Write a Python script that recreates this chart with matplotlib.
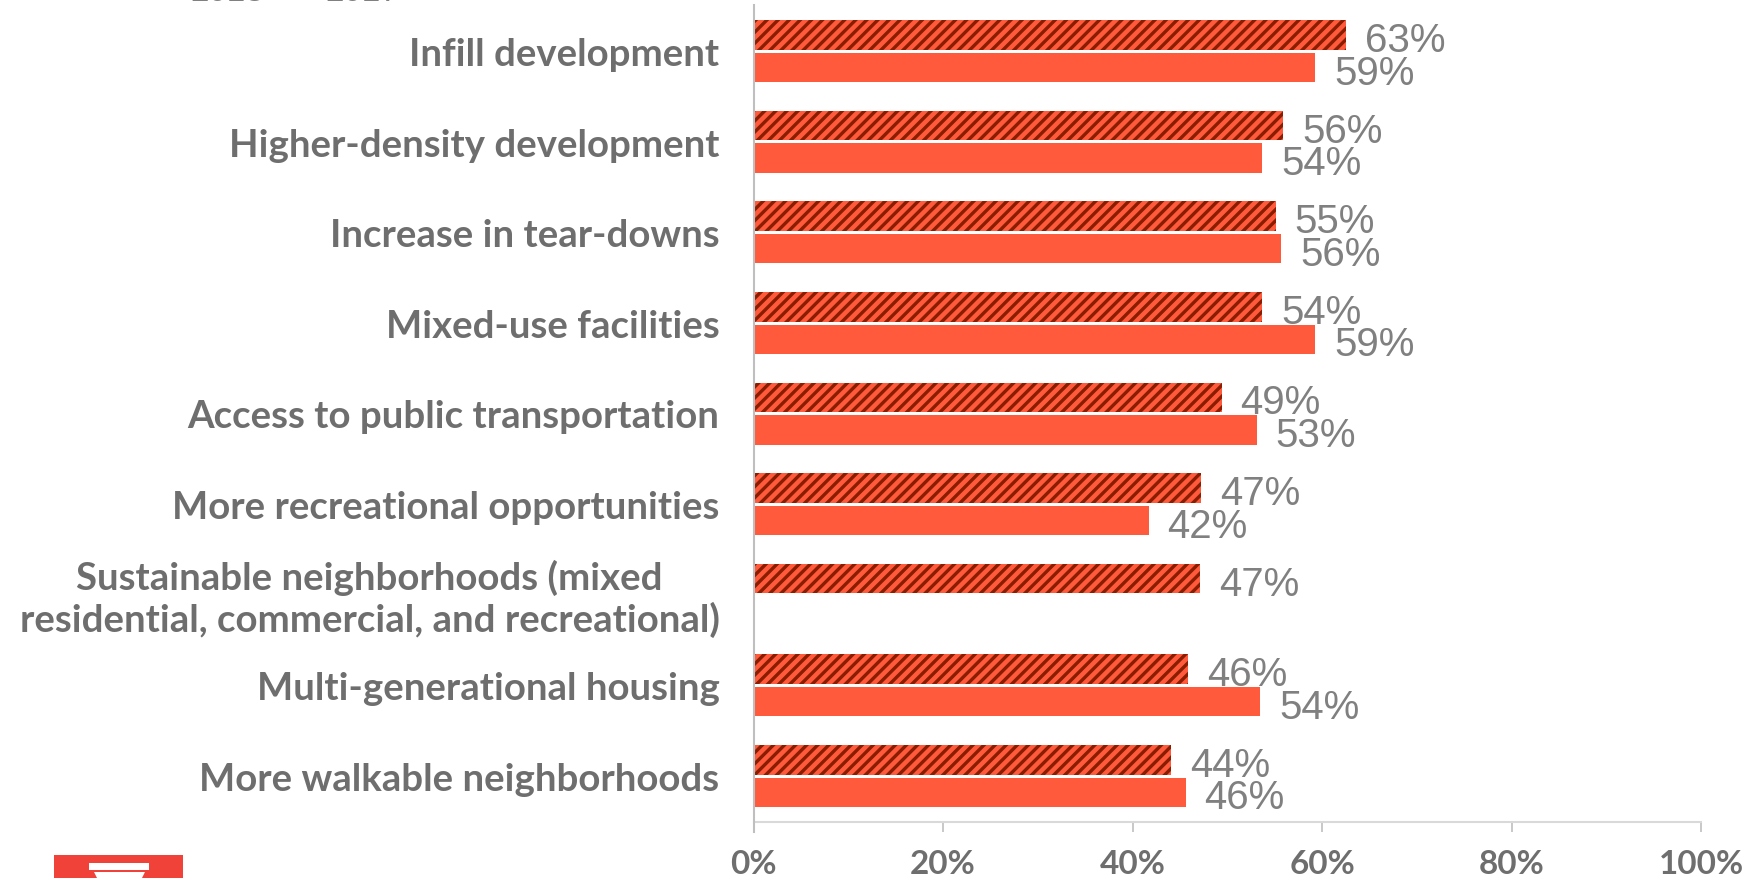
import matplotlib
matplotlib.use('Agg')
import matplotlib.pyplot as plt
import numpy as np
from matplotlib.patches import Rectangle, Polygon

# 数据
categories = ['Infill development', 'Higher-density development', 'Increase in tear-downs',
              'Mixed-use facilities', 'Access to public transportation',
              'More recreational opportunities',
              'Sustainable neighborhoods (mixed\nresidential, commercial, and recreational)',
              'Multi-generational housing', 'More walkable neighborhoods']
vals_2018 = [62.5, 55.9, 55.1, 53.7, 49.4, 47.2, 47.1, 45.9, 44.1]
vals_2017 = [59.3, 53.7, 55.7, 59.3, 53.1, 41.7, None, 53.5, 45.6]
labels_2018 = ['63%', '56%', '55%', '54%', '49%', '47%', '47%', '46%', '44%']
labels_2017 = ['59%', '54%', '56%', '59%', '53%', '42%', '', '54%', '46%']
xticks = [0, 20, 40, 60, 80, 100]

W, H = 1763, 878
DPI = 133  # hatch spacing follows dpi, so this sets the stripe width
S = 100 / DPI
RED = '#ff5a3c'
GREY = '#6e6e6e'
VAL = '#808080'
plt.rcParams['hatch.color'] = '#8a1c00'
plt.rcParams['hatch.linewidth'] = 2.4 * S

fig = plt.figure(figsize=((W + 0.01)/DPI, (H + 0.01)/DPI), dpi=DPI)
x0, x1 = 753.5, 1701
ytop, ybot = 5, 822
ax = fig.add_axes([x0/W, 1-ybot/H, (x1-x0)/W, (ybot-ytop)/H])
ax.set_xlim(0, 100)
ax.set_ylim(ybot, ytop)  # y in pixel units of the figure

pitch = 90.6
y_h = 35 + pitch*np.arange(len(categories))
y_s = 67.5 + pitch*np.arange(len(categories))

for i in range(len(categories)):
    ax.barh(y_h[i], vals_2018[i], height=29.5, color=RED, hatch='////', linewidth=0)
    ax.text(vals_2018[i]+2, y_h[i]+6, labels_2018[i], fontsize=29*S, color=VAL,
            family='Liberation Sans', va='center')
    if vals_2017[i] is not None:
        ax.barh(y_s[i], vals_2017[i], height=29.5, color=RED, linewidth=0)
        ax.text(vals_2017[i]+2, y_s[i]+6, labels_2017[i], fontsize=29*S, color=VAL,
                family='Liberation Sans', va='center')

for s in ['top', 'right', 'left']:
    ax.spines[s].set_visible(False)
ax.spines['bottom'].set_color('#d9d9d9')
ax.spines['bottom'].set_linewidth(1.5*S)
ax.plot([0, 0], [ytop, 832], color='#bfbfbf', lw=1.5*S, clip_on=False, zorder=5)

ax.set_xticks(xticks)
ax.set_xticklabels([f'{t}%' for t in xticks], fontsize=24*S, color=GREY,
                   family='Lato', fontweight='bold')
ax.tick_params(axis='x', length=7*S, width=1.2*S, color='#bfbfbf', pad=13*S)

# category labels
yoff = np.full(len(categories), 17.0)
yoff[6] = 14.0
ax.set_yticks(y_h + yoff)
ax.set_yticklabels(categories, fontsize=27.6*S, color=GREY, family='Lato', fontweight='bold',
                   linespacing=1.22)
for lab in ax.get_yticklabels():
    lab.set_multialignment('center')
ax.tick_params(axis='y', length=0, pad=24.5*S)

# legend cut off at the top of the image
fig.text(190/W, 1+7/H, '2018', fontsize=24*S, color='#808080', family='Liberation Sans', va='center')
fig.text(325/W, 1+7/H, '2017', fontsize=24*S, color='#808080', family='Liberation Sans', va='center')

# logo in the lower left corner
fig.add_artist(Rectangle((54/W, 0), 129/W, 23/H, transform=fig.transFigure, color='#f04238', lw=0))
fig.add_artist(Rectangle((89/W, 8/H), 60/W, 7/H, transform=fig.transFigure, color='white', lw=0))
fig.add_artist(Polygon([(94/W, 6/H), (145/W, 6/H), (142/W, 0), (97/W, 0)],
                       transform=fig.transFigure, color='white', lw=0))

fig.savefig('out.png', dpi=DPI)
